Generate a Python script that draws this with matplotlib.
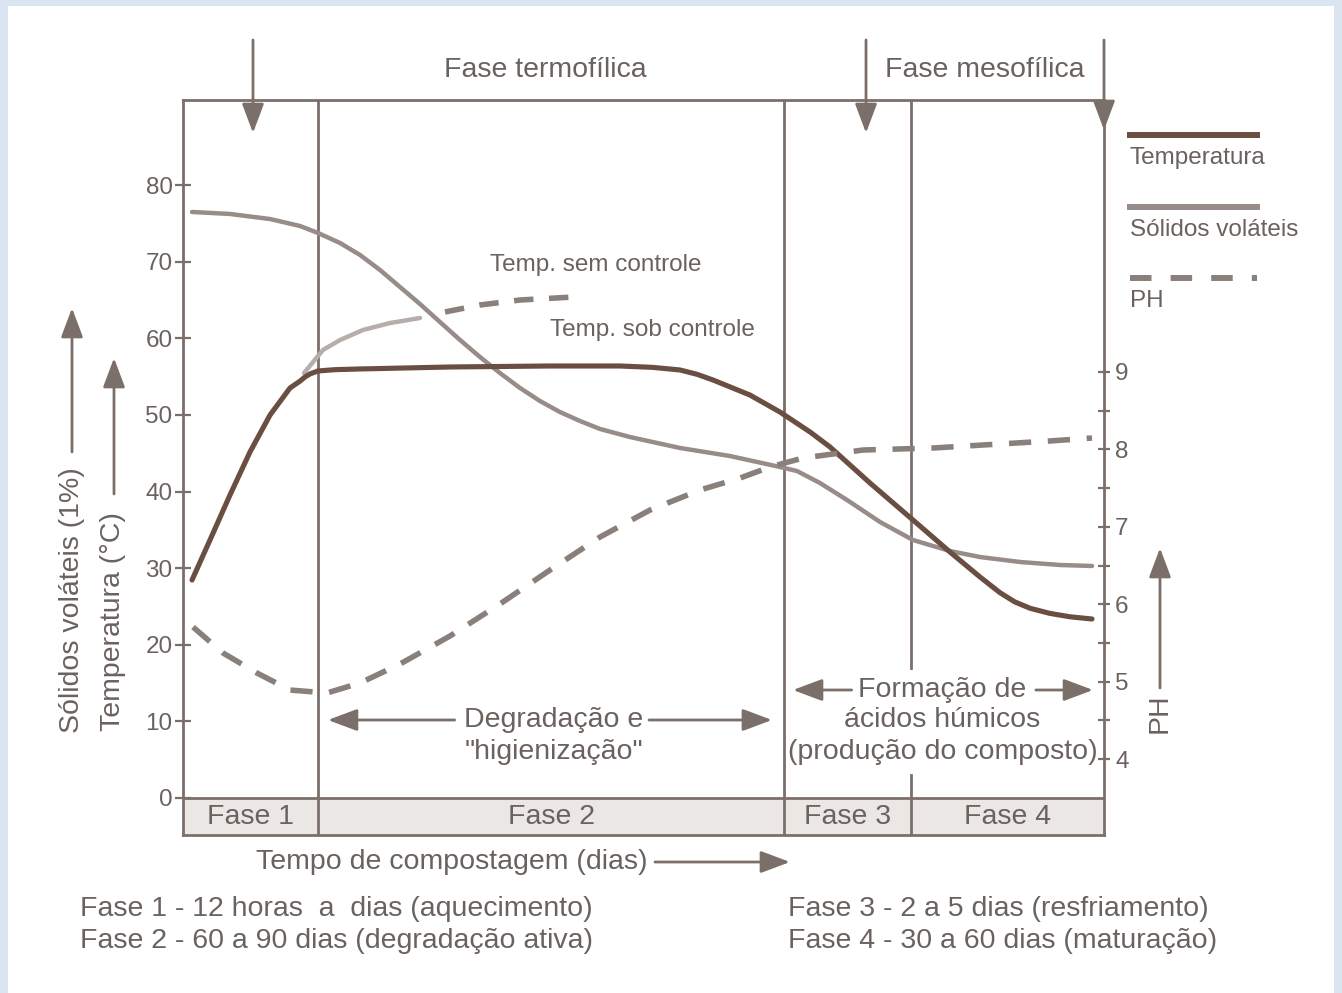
import matplotlib
matplotlib.use('Agg')
import matplotlib.pyplot as plt
from matplotlib.lines import Line2D
from matplotlib.patches import Rectangle
import numpy as np

plt.rcParams['font.family'] = ['Liberation Sans', 'DejaVu Sans']

# ---- data (time in arbitrary units 0-100 across the box) ----
phase_names = ['Fase 1', 'Fase 2', 'Fase 3', 'Fase 4']
phase_edges = [0, 14.66, 65.26, 79.05, 100]

temp_t = [0.98, 2.93, 5.10, 7.27, 9.45, 11.62, 12.70, 13.25, 13.80, 14.66, 16.5, 19.22, 28.99,
          39.85, 47.45, 51.0, 53.96, 55.8, 57.55, 61.56, 64.82, 68.08, 70.25, 74.59, 79.26,
          83.28, 86.54, 88.7, 90.3, 92.0, 94.1, 96.3, 98.70]
temp_v = [28.45, 33.67, 39.54, 45.15, 49.98, 53.51, 54.40, 54.95, 55.35, 55.73, 55.90, 55.99,
          56.25, 56.38, 56.38, 56.20, 55.86, 55.30, 54.55, 52.59, 50.37, 47.77, 45.81, 41.11,
          36.28, 32.10, 28.84, 26.80, 25.60, 24.75, 24.10, 23.65, 23.36]

sem_t = [13.14, 14.12, 15.20, 17.05, 19.54, 22.48, 25.73]
sem_v = [55.46, 56.90, 58.47, 59.77, 61.08, 61.99, 62.64]
sem_dash_t = [28.45, 32.25, 36.59, 42.35]
sem_dash_v = [63.43, 64.34, 64.99, 65.38]

sol_t = [0.98, 5.10, 9.45, 12.70, 14.66, 17.05, 19.22, 21.39, 23.56, 25.73, 27.90, 30.08,
         32.25, 34.42, 36.59, 38.76, 40.93, 43.11, 45.28, 48.53, 53.96, 59.39, 64.82,
         66.67, 69.16, 72.10, 75.68, 79.26, 83.28, 86.54, 90.88, 95.22, 98.70]
sol_v = [76.48, 76.22, 75.56, 74.65, 73.74, 72.43, 70.87, 68.91, 66.69, 64.47, 62.12, 59.77,
         57.55, 55.46, 53.51, 51.81, 50.37, 49.20, 48.16, 47.11, 45.68, 44.63, 43.20,
         42.67, 41.11, 38.89, 36.02, 33.67, 32.23, 31.45, 30.80, 30.41, 30.28]

ph_t = [1.09, 4.34, 8.03, 11.62, 15.64, 19.22, 23.56, 28.99, 34.42, 39.85, 45.28, 50.71,
        56.13, 60.48, 63.74, 67.32, 73.83, 81.43, 88.71, 94.14, 98.70]
ph_v = [5.705, 5.370, 5.111, 4.891, 4.853, 4.982, 5.227, 5.589, 6.003, 6.442, 6.868, 7.217,
        7.475, 7.630, 7.773, 7.889, 7.992, 8.018, 8.070, 8.109, 8.147]

left_ticks = [0, 10, 20, 30, 40, 50, 60, 70, 80]
ph_ticks = [4, 5, 6, 7, 8, 9]

# ---- styling ----
W, H = 1342, 993
TXT = '#6a625e'
BOX = '#7b6f6a'
C_TEMP = '#6b4e42'
C_SOL = '#978c87'
C_PH = '#8a807b'
C_SEM = '#b5aeaa'
BIG = 20.5
SMALL = 17.5


def fx(px):
    return px / W


def fy(py):
    return 1 - py / H


fig = plt.figure(figsize=(W / 100, H / 100), dpi=100)
fig.patch.set_facecolor('#dbe5f1')
fig.add_artist(Rectangle((fx(8), 0), fx(1334) - fx(8), fy(6), transform=fig.transFigure,
                         facecolor='white', edgecolor='none', zorder=-10))

ax = fig.add_axes([fx(183), fy(835), fx(1104) - fx(183), fy(100) - fy(835)])
ax.set_facecolor('none')
scale = 7.6625  # px per unit (temperature axis)
ybot = -(835 - 798) / scale
ytop = (798 - 100) / scale
ax.set_xlim(0, 100)
ax.set_ylim(ybot, ytop)
ax.set_xticks([])
ax.set_yticks(left_ticks)
ax.tick_params(axis='y', direction='inout', length=11, width=1.6, color=BOX,
               labelsize=SMALL, labelcolor=TXT, pad=2)
for s in ax.spines.values():
    s.set_color(BOX)
    s.set_linewidth(2)

ax2 = ax.twinx()
ph_scale = 77.4
ax2.set_ylim(4 - (835 - 759) / ph_scale, 4 + (759 - 100) / ph_scale)
ax2.set_yticks(ph_ticks)
ax2.set_yticks([4.5, 5.5, 6.5, 7.5, 8.5], minor=True)
ax2.tick_params(axis='y', which='both', direction='inout', length=8, width=1.6, color=BOX,
                labelsize=SMALL, labelcolor=TXT, pad=4)
for s in ax2.spines.values():
    s.set_visible(False)

# phase strip
ax.axhspan(ybot, 0, facecolor='#ebe7e5', edgecolor='none', zorder=0)
ax.axhline(0, color=BOX, lw=2)
for i, name in enumerate(phase_names):
    ax.text((phase_edges[i] + phase_edges[i + 1]) / 2, ybot / 2, name, ha='center', va='center',
            fontsize=BIG, color=TXT)
for e in phase_edges[1:3]:
    ax.axvline(e, color=BOX, lw=2)
gap_top = (798 - 668) / scale
gap_bot = (798 - 775) / scale
ax.plot([phase_edges[3]] * 2, [ytop, gap_top], color=BOX, lw=2)
ax.plot([phase_edges[3]] * 2, [gap_bot, ybot], color=BOX, lw=2)

# curves
ax.plot(sem_t, sem_v, color=C_SEM, lw=3.2, solid_capstyle='round')
ax.plot(sem_dash_t, sem_dash_v, color=C_PH, lw=4, dashes=(3.5, 2.8))
ax.plot(sol_t, sol_v, color=C_SOL, lw=3.2, solid_capstyle='round', solid_joinstyle='round')
ax.plot(temp_t, temp_v, color=C_TEMP, lw=3.7, solid_capstyle='round', solid_joinstyle='round')
ax2.plot(ph_t, ph_v, color=C_PH, lw=4, dashes=(4, 3))

ax.text(44.84, 69.56, 'Temp. sem controle', ha='center', va='center', fontsize=SMALL, color=TXT)
ax.text(50.92, 61.08, 'Temp. sob controle', ha='center', va='center', fontsize=SMALL, color=TXT)

arrow = dict(arrowstyle='-|>,head_length=1.2,head_width=0.45', color=BOX, lw=2,
             shrinkA=0, shrinkB=0, mutation_scale=15)


def arr(x0, y0, x1, y1, coords='data'):
    ax.annotate('', xy=(x1, y1), xytext=(x0, y0), xycoords=coords, textcoords=coords,
                arrowprops=arrow, annotation_clip=False)


# inner annotations
y_deg = (798 - 720) / scale
y_deg2 = (798 - 752) / scale
ax.text(40.28, y_deg, 'Degradação e', ha='center', va='center', fontsize=BIG, color=TXT)
ax.text(40.28, y_deg2, '"higienização"', ha='center', va='center', fontsize=BIG, color=TXT)
arr(29.5, y_deg, 15.74, y_deg)
arr(50.6, y_deg, 63.95, y_deg)

y_f1 = (798 - 690) / scale
ax.text(82.46, y_f1, 'Formação de', ha='center', va='center', fontsize=BIG, color=TXT)
ax.text(82.46, y_deg, 'ácidos húmicos', ha='center', va='center', fontsize=BIG, color=TXT)
ax.text(82.46, y_deg2, '(produção do composto)', ha='center', va='center', fontsize=BIG, color=TXT)
arr(72.6, y_f1, 66.23, y_f1)
arr(92.6, y_f1, 98.81, y_f1)

# header
y_hdr = (798 - 70) / scale
ax.text(39.3, y_hdr, 'Fase termofílica', ha='center', va='center', fontsize=BIG, color=TXT)
ax.text(87.08, y_hdr, 'Fase mesofílica', ha='center', va='center', fontsize=BIG, color=TXT)
y_a0 = (798 - 40) / scale
arr(7.6, y_a0, 7.6, (798 - 133) / scale)
arr(74.16, y_a0, 74.16, (798 - 133) / scale)
arr(100, y_a0, 100, (798 - 130) / scale)

# outer labels
fc = 'figure fraction'
fig.text(fx(452), fy(862), 'Tempo de compostagem (dias)', ha='center', va='center',
         fontsize=BIG, color=TXT)
arr(fx(655), fy(862), fx(790), fy(862), fc)

fig.text(fx(72), fy(733), 'Sólidos voláteis (1%)', rotation=90, ha='center', va='bottom',
         fontsize=BIG, color=TXT)
arr(fx(72), fy(452), fx(72), fy(308), fc)
fig.text(fx(113), fy(731), 'Temperatura (°C)', rotation=90, ha='center', va='bottom',
         fontsize=BIG, color=TXT)
arr(fx(114), fy(494), fx(114), fy(358), fc)
fig.text(fx(1160), fy(733), 'PH', rotation=90, ha='center', va='bottom', fontsize=BIG, color=TXT)
arr(fx(1160), fy(688), fx(1160), fy(548), fc)

# legend
leg = [('Temperatura', C_TEMP, None, 135), ('Sólidos voláteis', C_SOL, None, 207),
       ('PH', C_PH, (3.6, 3.2), 278)]
for label, c, d, yy in leg:
    ln = Line2D([fx(1130), fx(1257)], [fy(yy)] * 2, transform=fig.transFigure, color=c, lw=4.3)
    if d:
        ln.set_dashes(d)
    fig.add_artist(ln)
    fig.text(fx(1130), fy(yy + 23), label, ha='left', va='center', fontsize=SMALL, color=TXT)

# footnotes
fig.text(fx(80), fy(909), 'Fase 1 - 12 horas  a  dias (aquecimento)', ha='left', va='center',
         fontsize=BIG, color=TXT)
fig.text(fx(80), fy(941), 'Fase 2 - 60 a 90 dias (degradação ativa)', ha='left', va='center',
         fontsize=BIG, color=TXT)
fig.text(fx(788), fy(909), 'Fase 3 - 2 a 5 dias (resfriamento)', ha='left', va='center',
         fontsize=BIG, color=TXT)
fig.text(fx(788), fy(941), 'Fase 4 - 30 a 60 dias (maturação)', ha='left', va='center',
         fontsize=BIG, color=TXT)

fig.savefig('out.png', dpi=100, facecolor=fig.get_facecolor())
